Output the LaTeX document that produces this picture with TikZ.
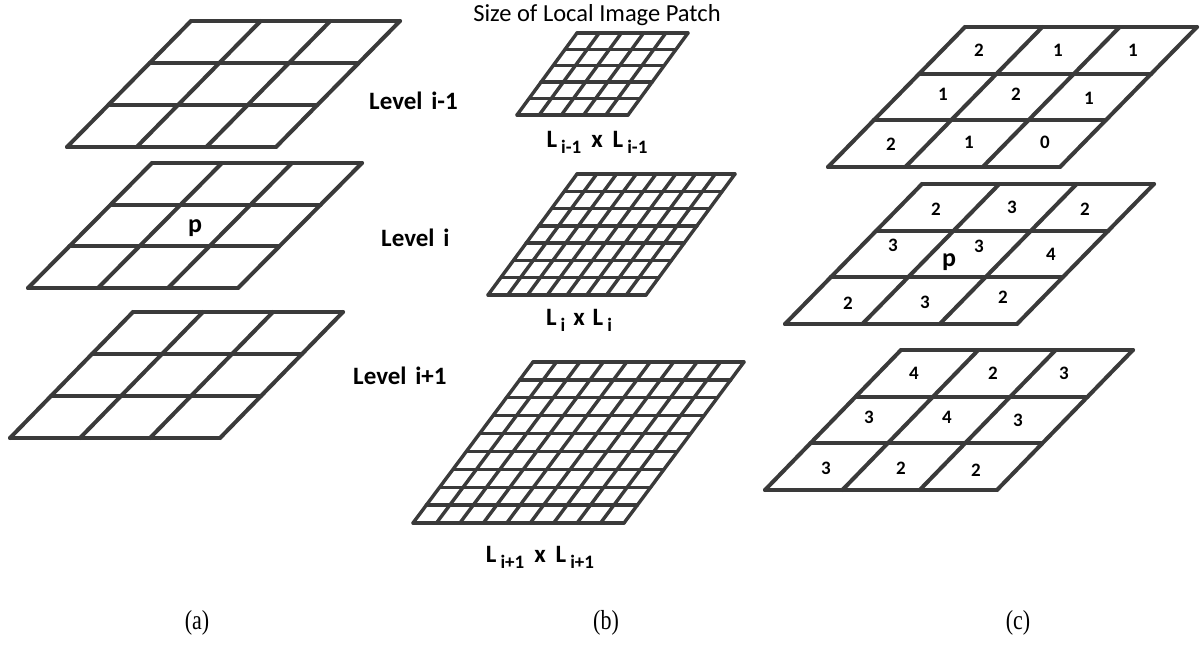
\documentclass[tikz,border=0pt]{standalone}
\usepackage{fontspec}
\setmainfont{Carlito}
\newfontfamily\capfont{Liberation Serif}
\definecolor{gridcol}{HTML}{3A3A3A}
% #1 TLx, #2 TLy, #3 TRx, #4 BLx, #5 BLy, #6 columns, #7 rows
\newcommand\skewgrid[7]{%
  \foreach \k in {0,...,#7}{%
    \pgfmathsetmacro\yy{#2+(#5-#2)*\k/#7}%
    \pgfmathsetmacro\xa{#1+(#4-#1)*\k/#7}%
    \pgfmathsetmacro\xb{#3+(#4-#1)*\k/#7}%
    \draw (\xa,\yy) -- (\xb,\yy);
  }%
  \foreach \k in {0,...,#6}{%
    \pgfmathsetmacro\xt{#1+(#3-#1)*\k/#6}%
    \draw (\xt,#2) -- ({\xt+#4-#1},#5);
  }%
}
\newcommand\Lsub[1]{L\hspace{4pt}\raisebox{-6pt}{\fontsize{19}{19}\selectfont #1}}
\begin{document}
\begin{tikzpicture}[x=1pt,y=-1pt,line cap=round,line join=round,
  lab/.style={font=\fontsize{25}{28}\selectfont\bfseries,inner sep=0pt},
  num/.style={font=\fontsize{19}{22}\selectfont\bfseries,inner sep=0pt},
  pl/.style={font=\fontsize{26}{28}\selectfont\bfseries,inner sep=0pt},
  capt/.style={font=\capfont\fontsize{22}{26}\selectfont,inner sep=0pt},
  coarse/.style={color=gridcol,line width=4pt},
  fine/.style={color=gridcol,line width=3.4pt}]
\useasboundingbox (0,0) rectangle (1203,647);
\fill[white] (0,0) rectangle (1203,647);

% column (a)
\begin{scope}[coarse]
  \skewgrid{191}{21}{400}{67}{147}{3}{3}
  \skewgrid{152}{163}{362}{28}{288}{3}{3}
  \skewgrid{133}{312}{343}{10}{438}{3}{3}
\end{scope}
\node[pl] (pa) at (195,228) {p};

% level labels
\node[lab,anchor=base west] (lvA) at (369,110) {Level\hspace{0.35em}i-1};
\node[lab,anchor=base west] (lvB) at (381,247) {Level\hspace{0.35em}i};
\node[lab,anchor=base west] (lvC) at (353,384) {Level\hspace{0.35em}i+1};

% column (b)
\node[font=\fontsize{24.5}{28}\selectfont,inner sep=0pt,anchor=base] (title) at (597,22) {Size of Local Image Patch};
\begin{scope}[fine]
  \skewgrid{577}{33}{688}{517}{115}{5}{5}
  \skewgrid{577}{174}{735}{488}{295}{8}{7}
  \skewgrid{533}{362}{744}{413}{523}{9}{9}
\end{scope}
\node[lab,anchor=base] (sA) at (597,148) {\Lsub{i-1}\hspace{10pt}x\hspace{10pt}\Lsub{i-1}};
\node[lab,anchor=base] (sB) at (579,325) {\Lsub{i}\hspace{8pt}x\hspace{8pt}\Lsub{i}};
\node[lab,anchor=base] (sC) at (540,562) {\Lsub{i+1}\hspace{10pt}x\hspace{10pt}\Lsub{i+1}};

% column (c)
\begin{scope}[coarse]
  \skewgrid{965}{27}{1197}{828}{167}{3}{3}
  \skewgrid{922}{184}{1154}{785}{324}{3}{3}
  \skewgrid{901}{350}{1133}{765}{490}{3}{3}
\end{scope}
% top grid values
\node[num] (t11) at (979,50) {2};
\node[num] (t12) at (1058,50) {1};
\node[num] (t13) at (1133,50) {1};
\node[num] (t21) at (943,94) {1};
\node[num] (t22) at (1016,94) {2};
\node[num] (t23) at (1089,98) {1};
\node[num] (t31) at (891,144) {2};
\node[num] (t32) at (969,142) {1};
\node[num] (t33) at (1045,142) {0};
% middle grid values
\node[num] (m11) at (936,209) {2};
\node[num] (m12) at (1012,207) {3};
\node[num] (m13) at (1085,209) {2};
\node[num] (m21) at (893,245) {3};
\node[pl] (pc) at (949,262) {p};
\node[num] (m22) at (979,246) {3};
\node[num] (m23) at (1051,254) {4};
\node[num] (m31) at (848,303) {2};
\node[num] (m32) at (925,302) {3};
\node[num] (m33) at (1003,297) {2};
% bottom grid values
\node[num] (b11) at (914,373) {4};
\node[num] (b12) at (993,373) {2};
\node[num] (b13) at (1064,373) {3};
\node[num] (b21) at (869,417) {3};
\node[num] (b22) at (947,417) {4};
\node[num] (b23) at (1018,420) {3};
\node[num] (b31) at (826,468) {3};
\node[num] (b32) at (901,468) {2};
\node[num] (b33) at (976,470) {2};

% captions
\node[capt,yscale=1.25] (ca) at (197,623) {(a)};
\node[capt,yscale=1.25] (cb) at (606,623) {(b)};
\node[capt,yscale=1.25] (cc) at (1018,623) {(c)};
\end{tikzpicture}
\end{document}
